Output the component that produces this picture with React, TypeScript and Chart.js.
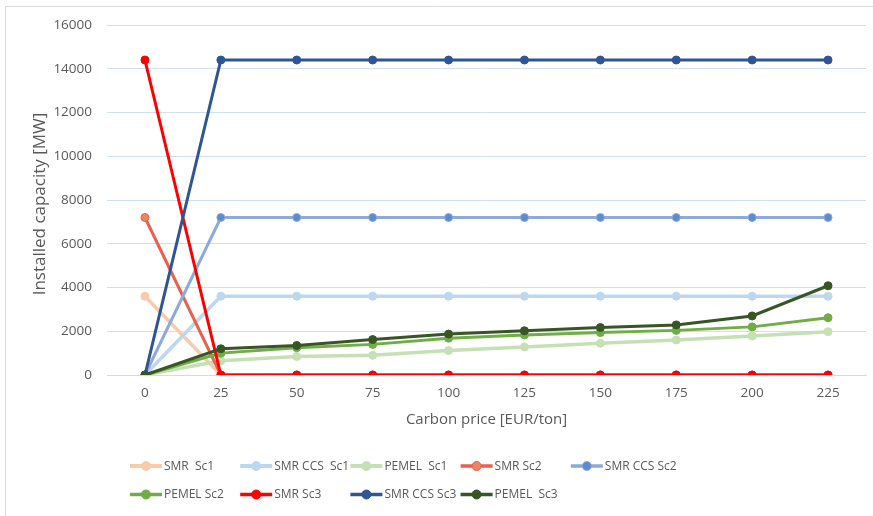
import React, { useEffect, useRef } from "react";
import { Chart, registerables } from "chart.js";

Chart.register(...registerables);

// Carbon price levels on the x axis (EUR/ton)
const carbonPrices = ["0", "25", "50", "75", "100", "125", "150", "175", "200", "225"];

// Installed capacity per technology and scenario (MW)
const smrSc1 = [3600, 0, 0, 0, 0, 0, 0, 0, 0, 0];
const smrCcsSc1 = [0, 3600, 3600, 3600, 3600, 3600, 3600, 3600, 3600, 3600];
const pemelSc1 = [0, 650, 850, 900, 1120, 1280, 1450, 1600, 1780, 1980];
const smrSc2 = [7200, 0, 0, 0, 0, 0, 0, 0, 0, 0];
const smrCcsSc2 = [0, 7200, 7200, 7200, 7200, 7200, 7200, 7200, 7200, 7200];
const pemelSc2 = [0, 1000, 1250, 1400, 1680, 1830, 1940, 2040, 2200, 2620];
const smrSc3 = [14400, 0, 0, 0, 0, 0, 0, 0, 0, 0];
const smrCcsSc3 = [0, 14400, 14400, 14400, 14400, 14400, 14400, 14400, 14400, 14400];
const pemelSc3 = [0, 1200, 1350, 1620, 1870, 2020, 2170, 2290, 2700, 4080];

// Axis range
const yMin = 0;
const yMax = 16000;
const yStep = 2000;

const xTitle = "Carbon price [EUR/ton]";
const yTitle = "Installed capacity [MW]";

const FONT = "'Open Sans', 'Liberation Sans', sans-serif";
const TEXT = "#595959";

type Series = {
  label: string;
  data: number[];
  line: string;
  fill: string;
  width: number;
};

const series: Series[] = [
  { label: "SMR  Sc1", data: smrSc1, line: "#F8CBAD", fill: "#F8CBAD", width: 3.5 },
  { label: "SMR CCS  Sc1", data: smrCcsSc1, line: "#BDD7EE", fill: "#BDD7EE", width: 3.5 },
  { label: "PEMEL  Sc1", data: pemelSc1, line: "#C5E0B4", fill: "#C5E0B4", width: 3.5 },
  { label: "SMR Sc2", data: smrSc2, line: "#E9604C", fill: "#EE8466", width: 3 },
  { label: "SMR CCS Sc2", data: smrCcsSc2, line: "#8EA9DB", fill: "#5B8BD0", width: 3 },
  { label: "PEMEL Sc2", data: pemelSc2, line: "#70AD47", fill: "#70AD47", width: 3 },
  { label: "SMR Sc3", data: smrSc3, line: "#FF0000", fill: "#FF0000", width: 3 },
  { label: "SMR CCS Sc3", data: smrCcsSc3, line: "#2F5597", fill: "#2F5597", width: 3 },
  { label: "PEMEL  Sc3", data: pemelSc3, line: "#375623", fill: "#375623", width: 3 },
];

// White background, the thin outer frame and the vertical axis title
const framePlugin = {
  id: "frame",
  beforeDraw(chart: Chart) {
    const { ctx, width, height } = chart;
    ctx.save();
    ctx.fillStyle = "#FFFFFF";
    ctx.fillRect(0, 0, width, height);
    ctx.strokeStyle = "#D9D9D9";
    ctx.lineWidth = 1;
    ctx.beginPath();
    ctx.moveTo(5.5, height);
    ctx.lineTo(5.5, 6.5);
    ctx.lineTo(width, 6.5);
    ctx.stroke();

    ctx.translate(40, 204);
    ctx.rotate(-Math.PI / 2);
    ctx.font = `17px ${FONT}`;
    ctx.fillStyle = TEXT;
    ctx.textAlign = "center";
    ctx.textBaseline = "middle";
    ctx.fillText(yTitle, 0, 0);
    ctx.restore();
  },
};

// Legend laid out as a grid of five columns under the plot
const gridLegendPlugin = {
  id: "gridLegend",
  afterDraw(chart: Chart) {
    const { ctx } = chart;
    const colW = 110.2;
    const rowH = 28.5;
    const left = 130;
    const top = 466;
    ctx.save();
    ctx.font = `12px ${FONT}`;
    ctx.textBaseline = "middle";
    ctx.textAlign = "left";
    series.forEach((s, i) => {
      const x = left + (i % 5) * colW;
      const y = top + Math.floor(i / 5) * rowH;
      ctx.strokeStyle = s.line;
      ctx.lineWidth = s.width + 0.5;
      ctx.beginPath();
      ctx.moveTo(x, y);
      ctx.lineTo(x + 32, y);
      ctx.stroke();
      ctx.beginPath();
      ctx.arc(x + 16, y, 4.5, 0, Math.PI * 2);
      ctx.fillStyle = s.fill;
      ctx.fill();
      ctx.lineWidth = 1;
      ctx.strokeStyle = s.line;
      ctx.stroke();
      ctx.fillStyle = TEXT;
      ctx.fillText(s.label, x + 34, y + 0.5);
    });
    ctx.restore();
  },
};

export default function App() {
  const canvasRef = useRef<HTMLCanvasElement | null>(null);

  useEffect(() => {
    document.body.style.margin = "0";
    const canvas = canvasRef.current;
    if (!canvas) return;

    const chart = new Chart(canvas, {
      type: "line",
      data: {
        labels: carbonPrices,
        datasets: series.map((s, i) => ({
          label: s.label,
          data: s.data,
          borderColor: s.line,
          backgroundColor: s.fill,
          borderWidth: s.width,
          pointRadius: 4,
          pointBorderWidth: 1,
          pointBackgroundColor: s.fill,
          pointBorderColor: s.line,
          tension: 0,
          fill: false,
          // later series are painted on top
          order: series.length - i,
        })),
      },
      options: {
        responsive: false,
        animation: false,
        events: [],
        layout: { padding: { top: 25, right: 7, bottom: 71, left: 0 } },
        plugins: {
          legend: { display: false },
          tooltip: { enabled: false },
        },
        scales: {
          x: {
            type: "category",
            offset: true,
            grid: { display: false, drawTicks: false },
            border: { display: true, color: "#D9D9D9" },
            ticks: {
              color: TEXT,
              font: { family: FONT, size: 13.5 },
              padding: 10,
              maxRotation: 0,
            },
            title: {
              display: true,
              text: xTitle,
              color: TEXT,
              font: { family: FONT, size: 15 },
              padding: { top: 0, bottom: 16 },
            },
            afterFit(scale: any) {
              scale.height = 70;
            },
          },
          y: {
            min: yMin,
            max: yMax,
            grid: {
              drawTicks: false,
              color: (ctx: any) => (ctx.tick && ctx.tick.value === 0 ? "#D9D9D9" : "#CFE0F3"),
              lineWidth: 1,
            },
            border: { display: false },
            ticks: {
              stepSize: yStep,
              color: TEXT,
              font: { family: FONT, size: 13.5 },
              padding: 15,
              callback: (v: any) => String(v),
            },
            title: { display: false },
            afterFit(scale: any) {
              scale.width = 107;
            },
          },
        },
      },
      plugins: [framePlugin, gridLegendPlugin],
    });

    return () => chart.destroy();
  }, []);

  return (
    <div style={{ width: 873, height: 516 }}>
      <canvas ref={canvasRef} width={873} height={516} />
    </div>
  );
}
